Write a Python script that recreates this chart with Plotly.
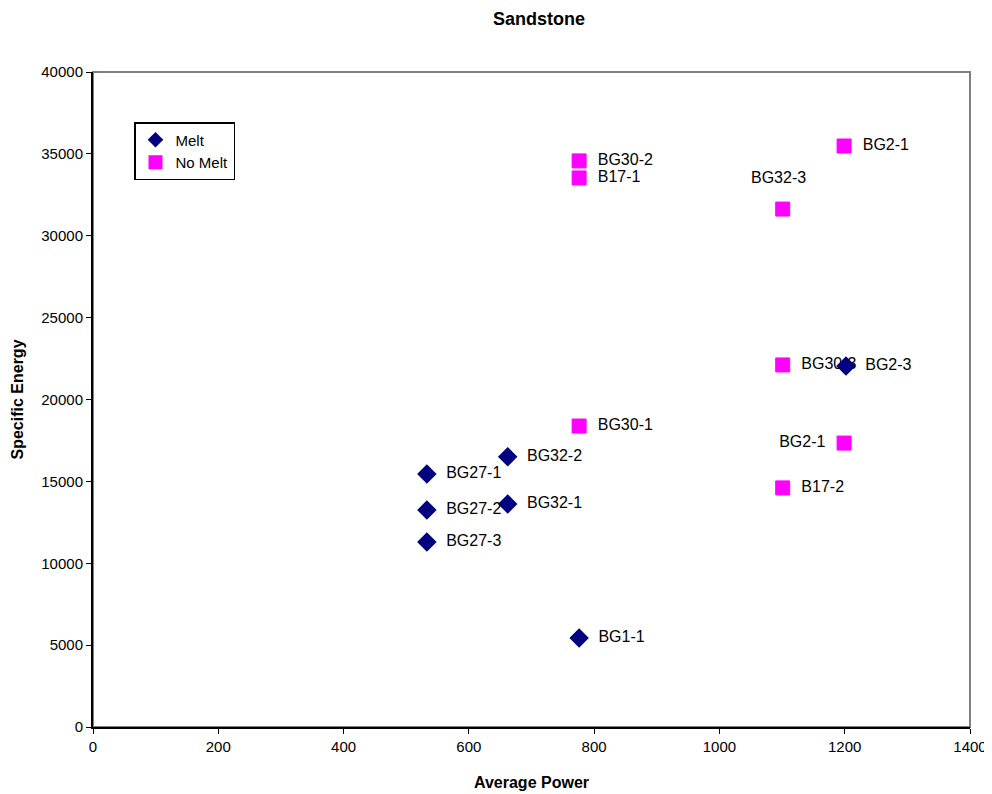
import plotly.graph_objects as go

melt_names = ["BG27-1", "BG27-2", "BG27-3", "BG32-2", "BG32-1", "BG1-1", "BG2-3"]
melt_power = [533, 533, 533, 662, 662, 776, 1202]
melt_energy = [15450, 13250, 11300, 16500, 13620, 5440, 22050]
melt_pos = ["middle right"] * 7

nomelt_names = ["BG30-2", "B17-1", "BG2-1", "BG32-3", "BG30-3", "BG30-1", "BG2-1", "B17-2"]
nomelt_power = [776, 776, 1199, 1101, 1101, 776, 1199, 1101]
nomelt_energy = [34570, 33530, 35480, 31630, 22110, 18380, 17340, 14600]
nomelt_pos = ["middle right", "middle right", "middle right", "above",
              "middle right", "middle right", "middle left", "middle right"]

fnt = "Liberation Sans, Arial, sans-serif"

# page body has an 8px margin; figure sized so plot area lands where the reference has it
W, H = 984, 786
OFF = 8

def lbl(n, p):
    if p == "middle right":
        return "  " + n
    if p == "middle left":
        return n + "  "
    return ""

fig = go.Figure()
fig.add_trace(go.Scatter(
    x=nomelt_power, y=nomelt_energy, text=[lbl(n, p) for n, p in zip(nomelt_names, nomelt_pos)],
    mode="markers+text", name="No Melt",
    textposition=[p if p != "above" else "top center" for p in nomelt_pos],
    marker=dict(symbol="square", size=14, color="#FF00FF", line=dict(color="#FF00FF", width=1)),
    textfont=dict(family=fnt, size=16, color="black"), cliponaxis=False))
fig.add_trace(go.Scatter(
    x=melt_power, y=melt_energy, text=[lbl(n, p) for n, p in zip(melt_names, melt_pos)],
    mode="markers+text", name="Melt", textposition=melt_pos,
    marker=dict(symbol="diamond", size=15, color="#000080"),
    textfont=dict(family=fnt, size=16, color="black"), cliponaxis=False))

# labels placed above their point
for n, p, xv, yv in zip(nomelt_names, nomelt_pos, nomelt_power, nomelt_energy):
    if p == "above":
        fig.add_annotation(x=xv, y=yv, text=n, showarrow=False, xanchor="center", yanchor="middle",
                           xshift=-4, yshift=32, font=dict(family=fnt, size=16, color="black"))

fig.add_shape(type="rect", xref="paper", yref="paper", x0=0, y0=0, x1=1, y1=1,
              line=dict(color="#808080", width=2), layer="below")

fig.update_layout(
    width=W, height=H,
    margin=dict(l=93 - OFF, r=22, t=72 - OFF, b=67, autoexpand=False),
    paper_bgcolor="white", plot_bgcolor="white",
    font=dict(family=fnt, size=15, color="black"),
    title=dict(text="<b>Sandstone</b>", x=(539 - OFF) / W, xanchor="center",
               y=1 - 11 / H, yanchor="middle",
               font=dict(family=fnt, size=18, color="black")),
    showlegend=True,
    legend=dict(x=(134 - 93) / 877, y=1 - (122 - 72) / 655, xanchor="left", yanchor="top",
                bordercolor="black", borderwidth=1.5, bgcolor="white",
                font=dict(family=fnt, size=15), traceorder="reversed",
                itemwidth=30, tracegroupgap=0, itemsizing="constant"),
    xaxis=dict(range=[0, 1400], dtick=200, tickformat="d", showgrid=False, zeroline=False,
               showline=True, linecolor="black", linewidth=2, automargin=False,
               ticks="outside", ticklen=5, tickcolor="black", tickwidth=1,
               title=dict(text="<b>Average Power</b>", font=dict(family=fnt, size=16), standoff=23),
               tickfont=dict(family=fnt, size=15)),
    yaxis=dict(range=[0, 40000], dtick=5000, tickformat="d", showgrid=False, zeroline=False,
               showline=True, linecolor="black", linewidth=2, automargin=False,
               ticks="outside", ticklen=5, tickcolor="black", tickwidth=1,
               title=dict(text="<b>Specific Energy</b>", font=dict(family=fnt, size=16), standoff=14),
               tickfont=dict(family=fnt, size=15)),
)

fig.write_html("out.html")
